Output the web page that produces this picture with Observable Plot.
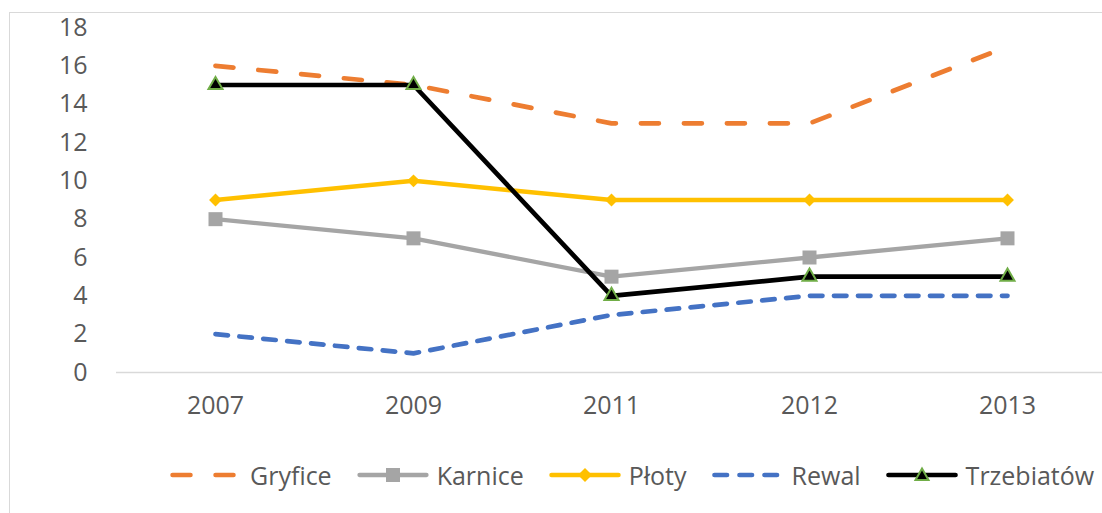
<!DOCTYPE html>
<html>
<head>
<meta charset="utf-8">
<script src="https://cdn.jsdelivr.net/npm/d3@7"></script>
<script src="https://cdn.jsdelivr.net/npm/@observablehq/plot@0.6"></script>
<style>
  html, body { margin: 0; padding: 0; background: #fff; overflow: hidden; width: 1102px; height: 513px; }
  #frame { position: absolute; left: 9px; top: 12px; width: 1200px; height: 600px; border: 1px solid #d9d9d9; box-sizing: border-box; }
  #chart { position: absolute; left: 0; top: 0; }
  #legend { position: absolute; left: 170px; top: 458px; display: flex; align-items: center; gap: 25px;
            font-family: "Open Sans", sans-serif; font-size: 25px; color: #595959; white-space: nowrap; }
  .item { display: flex; align-items: center; }
  .item svg { margin-right: 8px; }
</style>
</head>
<body>
<div id="frame"></div>
<div id="chart"></div>
<div id="legend"></div>
<script>
const years = ["2007", "2009", "2011", "2012", "2013"];
const gryfice = [16, 15, 13, 13, 17];
const karnice = [8, 7, 5, 6, 7];
const ploty = [9, 10, 9, 9, 9];
const rewal = [2, 1, 3, 4, 4];
const trzebiatow = [15, 15, 4, 5, 5];
const yTicks = [0, 2, 4, 6, 8, 10, 12, 14, 16, 18];

const seriesNames = ["Gryfice", "Karnice", "Płoty", "Rewal", "Trzebiatów"];
const seriesValues = [gryfice, karnice, ploty, rewal, trzebiatow];
const colors = {"Gryfice": "#ED7D31", "Karnice": "#A5A5A5", "Płoty": "#FFC000", "Rewal": "#4472C4", "Trzebiatów": "#000000"};

const table = seriesNames.map((name, i) => years.map((year, j) => ({series: name, year, value: seriesValues[i][j]})));
const [gD, kD, pD, rD, tD] = table;

const chart = Plot.plot({
  width: 1102,
  height: 440,
  marginLeft: 116,
  marginRight: 0,
  marginTop: 27,
  marginBottom: 68,
  style: {fontFamily: "'Open Sans', sans-serif", fontSize: "25px", color: "#595959", background: "transparent"},
  x: {type: "point", domain: years, range: [214, 1007], padding: 0, label: null},
  y: {domain: [0, 18], label: null},
  marks: [
    Plot.ruleY([0], {stroke: "#d9d9d9", strokeWidth: 1.3}),
    Plot.axisY({ticks: yTicks, tickSize: 0, tickPadding: 29, label: null, fill: "#595959"}),
    Plot.axisX({tickSize: 0, tickPadding: 24, label: null, fill: "#595959"}),
    Plot.line(gD, {x: "year", y: "value", stroke: colors["Gryfice"], strokeWidth: 4.7, strokeDasharray: "18 25", strokeLinecap: "round"}),
    Plot.line(kD, {x: "year", y: "value", stroke: colors["Karnice"], strokeWidth: 4.3}),
    Plot.dot(kD, {x: "year", y: "value", symbol: "square", r: 7.9, fill: colors["Karnice"], stroke: "none"}),
    Plot.line(pD, {x: "year", y: "value", stroke: colors["Płoty"], strokeWidth: 4.5}),
    Plot.dot(pD, {x: "year", y: "value", symbol: "diamond2", r: 5.8, fill: colors["Płoty"], stroke: "none"}),
    Plot.line(rD, {x: "year", y: "value", stroke: colors["Rewal"], strokeWidth: 4.7, strokeDasharray: "12.5 11.5", strokeLinecap: "round"}),
    Plot.line(tD, {x: "year", y: "value", stroke: colors["Trzebiatów"], strokeWidth: 4.7}),
    Plot.dot(tD, {x: "year", y: "value", symbol: "triangle", r: 5.2, fill: "#000", stroke: "#70AD47", strokeWidth: 2})
  ]
});
document.getElementById("chart").appendChild(chart);

// Legend
const legend = d3.select("#legend");
const symbolSpec = {
  "Gryfice": {dash: "18 25", cap: "round", width: 4.5, marker: null},
  "Karnice": {dash: null, cap: "round", width: 4.3, marker: "square"},
  "Płoty": {dash: null, cap: "round", width: 4.5, marker: "diamond"},
  "Rewal": {dash: "12.5 12.5", cap: "round", width: 4.7, marker: null},
  "Trzebiatów": {dash: null, cap: "round", width: 4.7, marker: "triangle"}
};
seriesNames.forEach(name => {
  const spec = symbolSpec[name];
  const item = legend.append("div").attr("class", "item");
  const svg = item.append("svg").attr("width", 72).attr("height", 20);
  svg.append("line").attr("x1", 2.5).attr("x2", 69.5).attr("y1", 10).attr("y2", 10)
    .attr("stroke", colors[name]).attr("stroke-width", spec.width)
    .attr("stroke-linecap", spec.cap)
    .attr("stroke-dasharray", spec.dash);
  if (spec.marker === "square") {
    svg.append("rect").attr("x", 29).attr("y", 3).attr("width", 14).attr("height", 14).attr("fill", colors[name]);
  } else if (spec.marker === "diamond") {
    svg.append("path").attr("d", "M36,3L43,10L36,17L29,10Z").attr("fill", colors[name]);
  } else if (spec.marker === "triangle") {
    svg.append("path").attr("d", "M36,3.5L42.5,15L29.5,15Z").attr("fill", "#000").attr("stroke", "#70AD47").attr("stroke-width", 2);
  }
  item.append("span").text(name);
});
</script>
</body>
</html>
